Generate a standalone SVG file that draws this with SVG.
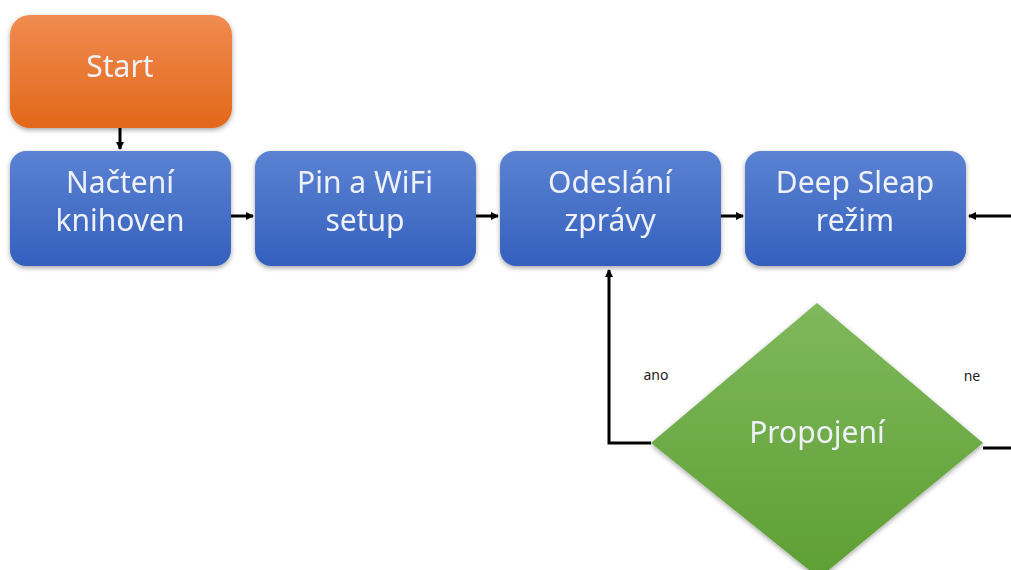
<svg xmlns="http://www.w3.org/2000/svg" width="1011" height="570" viewBox="0 0 1011 570">
<style>
.lbl{font-family:"Noto Sans","Open Sans",sans-serif;font-size:30px;fill:#EEF1F8;text-anchor:middle}
.sm{font-family:"Noto Sans","Open Sans",sans-serif;font-size:14px;fill:#222;text-anchor:middle}
.ln{stroke:#000;stroke-width:3;fill:none}
</style>
<defs>
<linearGradient id="gB" x1="0" y1="0" x2="0" y2="1"><stop offset="0" stop-color="#5B82D2"/><stop offset="1" stop-color="#3460BD"/></linearGradient>
<linearGradient id="gO" x1="0" y1="0" x2="0" y2="1"><stop offset="0" stop-color="#F08B50"/><stop offset="1" stop-color="#E2681A"/></linearGradient>
<linearGradient id="gG" x1="0" y1="0" x2="0" y2="1"><stop offset="0" stop-color="#7FB85C"/><stop offset="1" stop-color="#5E9F33"/></linearGradient>
<filter id="sh" x="-10%" y="-10%" width="120%" height="130%"><feDropShadow dx="0" dy="2" stdDeviation="2.5" flood-color="#000" flood-opacity="0.35"/></filter>
<marker id="ar" markerWidth="8" markerHeight="8" refX="7" refY="4" orient="auto" markerUnits="userSpaceOnUse"><path d="M0,0 L8,4 L0,8 z" fill="#000"/></marker>
</defs>
<g id="connectors">
<line class="ln" x1="120" y1="128" x2="120" y2="149" marker-end="url(#ar)"/>
<line class="ln" x1="231" y1="216" x2="253" y2="216" marker-end="url(#ar)"/>
<line class="ln" x1="476" y1="216" x2="498" y2="216" marker-end="url(#ar)"/>
<line class="ln" x1="721" y1="216" x2="743" y2="216" marker-end="url(#ar)"/>
<line class="ln" x1="1011" y1="216" x2="969" y2="216" marker-end="url(#ar)"/>
<polyline class="ln" points="651,443 609,443 609,270" marker-end="url(#ar)"/>
<line class="ln" x1="983" y1="448" x2="1011" y2="448"/>
<text class="sm" x="656" y="380">ano</text>
<text class="sm" x="972" y="381">ne</text>
</g>
<g id="start" filter="url(#sh)"><rect x="10" y="15" width="222" height="113" rx="20" fill="url(#gO)"/><text class="lbl" x="120" y="77">Start</text></g>
<g id="nacteni" filter="url(#sh)"><rect x="10" y="151" width="221" height="115" rx="16" fill="url(#gB)"/><text class="lbl" x="120" y="193">Načtení</text><text class="lbl" x="120" y="231">knihoven</text></g>
<g id="pin" filter="url(#sh)"><rect x="255" y="151" width="221" height="115" rx="16" fill="url(#gB)"/><text class="lbl" x="365" y="193">Pin a WiFi</text><text class="lbl" x="365" y="231">setup</text></g>
<g id="odeslani" filter="url(#sh)"><rect x="500" y="151" width="221" height="115" rx="16" fill="url(#gB)"/><text class="lbl" x="610" y="193">Odeslání</text><text class="lbl" x="610" y="231">zprávy</text></g>
<g id="deepsleep" filter="url(#sh)"><rect x="745" y="151" width="221" height="115" rx="16" fill="url(#gB)"/><text class="lbl" x="855" y="193">Deep Sleap</text><text class="lbl" x="855" y="231">režim</text></g>
<g id="propojeni" filter="url(#sh)"><polygon points="817,303 983,443 819,578 651,443" fill="url(#gG)"/><text class="lbl" x="817" y="443">Propojení</text></g>
</svg>
